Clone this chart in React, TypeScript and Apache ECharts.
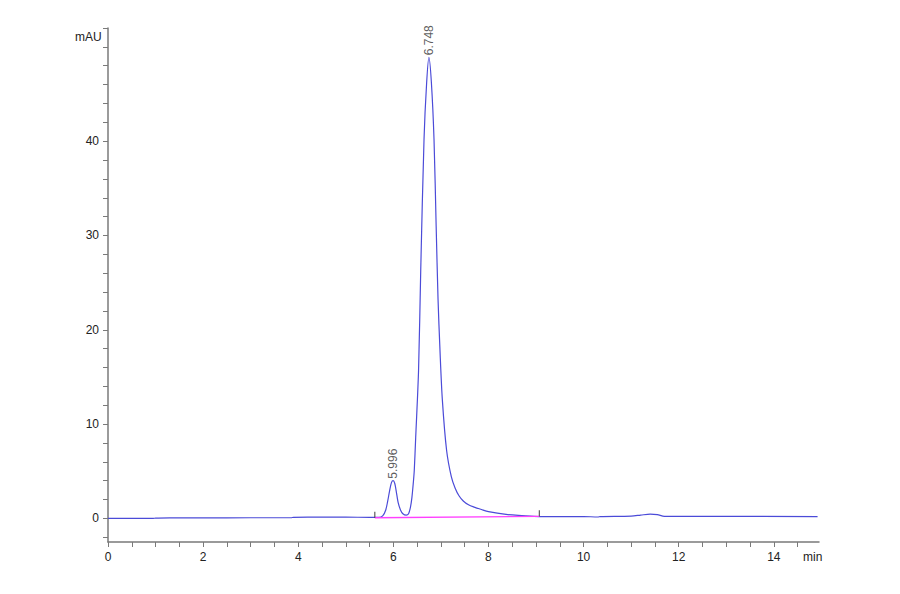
import React, { useEffect, useRef } from 'react'
import * as echarts from 'echarts'

// retention time (min) / absorbance (mAU)
const frontTime = [0, 0.95, 1.0, 1.3, 2.0, 3.0, 3.85, 3.9, 4.5, 5.0, 5.5, 5.7]
const frontSignal = [0, 0, 0.03, 0.05, 0.06, 0.07, 0.07, 0.12, 0.13, 0.13, 0.12, 0.12]

const minorTime = [5.78, 5.84, 5.88, 5.92, 5.96, 5.996, 6.03, 6.06, 6.1, 6.15, 6.2, 6.27]
const minorSignal = [0.3, 0.9, 1.8, 2.9, 3.8, 4.0, 3.7, 2.9, 1.7, 0.9, 0.5, 0.35]

const mainTime = [6.32, 6.36, 6.39, 6.42, 6.44, 6.47, 6.53, 6.576, 6.645, 6.7, 6.748, 6.8, 6.855, 6.9, 6.94, 6.98, 7.03, 7.12, 7.22, 7.3, 7.38, 7.47, 7.58]
const mainSignal = [0.5, 1.2, 2.2, 3.8, 5.1, 8.6, 15.7, 26.4, 40.2, 46.2, 48.9, 46.2, 40.2, 31.0, 23.2, 17.9, 12.6, 7.2, 4.4, 3.2, 2.4, 1.85, 1.45]

const tailTime = [7.7, 7.85, 8.0, 8.37, 8.7, 9.07, 9.5, 10.0, 10.3, 10.35, 11.0, 11.2, 11.4, 11.55, 11.7, 12.5, 14.92]
const tailSignal = [1.2, 0.95, 0.72, 0.42, 0.3, 0.2, 0.2, 0.2, 0.15, 0.2, 0.25, 0.35, 0.45, 0.4, 0.22, 0.22, 0.2]

const baseTime = [5.61, 9.07]
const baseSignal = [0.07, 0.22]

const peakTime = [5.996, 6.748]
const peakHeight = [4.0, 48.9]

const xTicks = [0, 0.5, 1, 1.5, 2, 2.5, 3, 3.5, 4, 4.5, 5, 5.5, 6, 6.5, 7, 7.5, 8, 8.5, 9, 9.5, 10, 10.5, 11, 11.5, 12, 12.5, 13, 13.5, 14, 14.5]
const xLabels = [0, 2, 4, 6, 8, 10, 12, 14]
const yTicks = [-2, 0, 2, 4, 6, 8, 10, 12, 14, 16, 18, 20, 22, 24, 26, 28, 30, 32, 34, 36, 38, 40, 42, 44, 46, 48, 50, 52]
const yLabels = [0, 10, 20, 30, 40]

const zip = (a: number[], b: number[]) => a.map((t, i) => [t, b[i]])

const App: React.FC = () => {
  const chartRef = useRef<HTMLDivElement>(null)

  useEffect(() => {
    document.body.style.margin = '0'
    if (!chartRef.current) return
    const chart = echarts.init(chartRef.current, null, { renderer: 'svg' })

    const trace = [
      ...zip(frontTime, frontSignal),
      ...zip(minorTime, minorSignal),
      ...zip(mainTime, mainSignal),
      ...zip(tailTime, tailSignal)
    ]

    const axisColor = '#7a7a7a'
    const font = 'Liberation Sans, Arial, sans-serif'

    chart.setOption({
      animation: false,
      backgroundColor: '#ffffff',
      grid: { left: 108, right: 81, top: 28, bottom: 52 },
      xAxis: {
        type: 'value',
        min: 0,
        max: 14.95,
        splitLine: { show: false },
        axisLine: { onZero: false, lineStyle: { color: axisColor, width: 1.5 } },
        axisTick: { customValues: xTicks, length: 5, lineStyle: { color: axisColor } },
        axisLabel: { customValues: xLabels, margin: 9, color: '#222', fontSize: 12, fontFamily: font }
      },
      yAxis: {
        type: 'value',
        min: -2.5,
        max: 52,
        splitLine: { show: false },
        axisLine: { show: true, lineStyle: { color: axisColor, width: 1.5 } },
        axisTick: { show: true, customValues: yTicks, length: 5, lineStyle: { color: axisColor } },
        axisLabel: { customValues: yLabels, margin: 9, color: '#222', fontSize: 12, fontFamily: font }
      },
      graphic: [
        { type: 'text', left: 75, top: 31, style: { text: 'mAU', fill: '#222', font: `12px ${font}` } },
        { type: 'text', left: 803, top: 551, style: { text: 'min', fill: '#222', font: `12px ${font}` } }
      ],
      series: [
        {
          type: 'line',
          data: trace,
          showSymbol: false,
          smooth: 0.3,
          lineStyle: { color: '#4b4bd8', width: 1.2 },
          z: 2
        },
        {
          type: 'line',
          data: zip(baseTime, baseSignal),
          showSymbol: false,
          lineStyle: { color: '#ff40ff', width: 1.4 },
          z: 3
        },
        {
          type: 'scatter',
          data: zip(baseTime, baseSignal),
          symbol: 'rect',
          symbolSize: [1.2, 6],
          symbolOffset: [0, -3],
          itemStyle: { color: '#333' },
          z: 4
        },
        {
          type: 'scatter',
          data: zip(peakTime, peakHeight),
          symbolSize: 0,
          label: {
            show: true,
            position: 'top',
            distance: 2,
            rotate: 90,
            align: 'left',
            verticalAlign: 'middle',
            color: '#333',
            fontSize: 12,
            fontFamily: font,
            formatter: (p: any) => p.value[0].toFixed(3)
          },
          z: 5
        }
      ]
    })

    return () => chart.dispose()
  }, [])

  return <div ref={chartRef} style={{ width: 900, height: 594 }} />
}

export default App
